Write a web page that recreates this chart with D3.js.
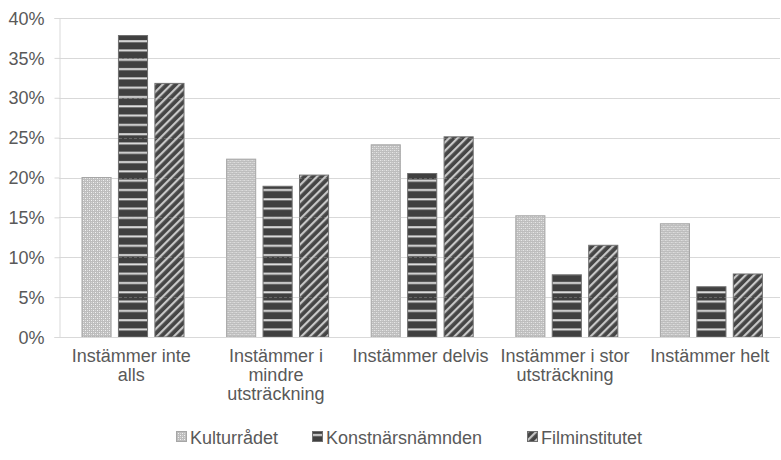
<!DOCTYPE html>
<html><head><meta charset="utf-8">
<script src="https://cdn.jsdelivr.net/npm/d3@7"></script>
<style>body{margin:0;background:#fff}svg{display:block;font-family:"Liberation Sans",Arial,sans-serif}</style>
</head><body><svg id="c" width="781" height="460"></svg>
<script>
const categories = ["Instämmer inte alls","Instämmer i mindre utsträckning","Instämmer delvis","Instämmer i stor utsträckning","Instämmer helt"];
const categoryLines = [["Instämmer inte","alls"],["Instämmer i","mindre","utsträckning"],["Instämmer delvis"],["Instämmer i stor","utsträckning"],["Instämmer helt"]];
const seriesNames = ["Kulturrådet","Konstnärsnämnden","Filminstitutet"];
const kulturradet = [20.0, 22.3, 24.1, 15.2, 14.2];
const konstnarsnamnden = [37.8, 18.9, 20.5, 7.8, 6.3];
const filminstitutet = [31.8, 20.3, 25.1, 11.5, 7.9];
const yTicks = [0,5,10,15,20,25,30,35,40];

const seriesValues = [kulturradet, konstnarsnamnden, filminstitutet];
const svg = d3.select("#c");
const m = {l:59, r:780, t:18, b:337};
const FS = 18;

const defs = svg.append("defs");
// Kulturrådet: light dotted
const p1 = defs.append("pattern").attr("id","p0").attr("patternUnits","userSpaceOnUse").attr("width",4).attr("height",4);
p1.append("rect").attr("width",4).attr("height",4).attr("fill","#bdbdbd");
p1.append("rect").attr("x",0).attr("y",0).attr("width",1).attr("height",1).attr("fill","#f2f2f2");
p1.append("rect").attr("x",2).attr("y",2).attr("width",1).attr("height",1).attr("fill","#f2f2f2");
p1.append("rect").attr("x",2).attr("y",0).attr("width",1).attr("height",1).attr("fill","#d8d8d8");
p1.append("rect").attr("x",0).attr("y",2).attr("width",1).attr("height",1).attr("fill","#d8d8d8");
// Konstnärsnämnden: horizontal stripes
const p2 = defs.append("pattern").attr("id","p1").attr("patternUnits","userSpaceOnUse").attr("width",8).attr("height",9.3);
p2.append("rect").attr("width",8).attr("height",9.3).attr("fill","#404040");
p2.append("rect").attr("y",3).attr("width",8).attr("height",2).attr("fill","#e0e0e0");
// Filminstitutet: diagonal stripes
const p3 = defs.append("pattern").attr("id","p2").attr("patternUnits","userSpaceOnUse").attr("width",6).attr("height",6).attr("patternTransform","rotate(45)");
p3.append("rect").attr("width",6).attr("height",6).attr("fill","#454545");
p3.append("rect").attr("x",0).attr("width",2.2).attr("height",6).attr("fill","#c8c8c8");

const fills = ["url(#p0)","url(#p1)","url(#p2)"];
const strokes = ["#a6a6a6","#6f6f6f","#6f6f6f"];

const y = d3.scaleLinear().domain([0,40]).range([m.b, m.t]);
const x0 = d3.scaleBand().domain(categories).range([m.l, m.l + 5*144.6]).padding(0);
const x1 = d3.scaleBand().domain(seriesNames).range([22.5, 22.5 + 103]).paddingInner(0.174);

// gridlines
const gridVals = yTicks.filter(d=>d>0);
svg.append("g").selectAll("line").data(gridVals).join("line")
  .attr("x1",m.l).attr("x2",m.r).attr("y1",d=>Math.round(y(d))+0.5).attr("y2",d=>Math.round(y(d))+0.5)
  .attr("stroke","#d9d9d9").attr("stroke-width",1);

// y axis
const ya = svg.append("g").attr("transform",`translate(${m.l+0.5},0)`)
  .call(d3.axisLeft(y).tickValues(yTicks).tickFormat(d=>d+"%").tickSize(5).tickPadding(10));
ya.select(".domain").attr("stroke","#d9d9d9");
ya.selectAll(".tick line").attr("stroke","#d9d9d9");
ya.selectAll(".tick text").attr("fill","#595959").attr("font-size",FS).attr("font-family","Liberation Sans, Arial, sans-serif").attr("dy","0.34em");

// bars
const gs = svg.append("g").selectAll("g").data(categories).join("g")
  .attr("transform",d=>`translate(${x0(d)},0)`);
gs.selectAll("rect").data((d,i)=>seriesNames.map((s,j)=>({s, j, v:seriesValues[j][i]}))).join("rect")
  .attr("x",d=>x1(d.s)+0.5).attr("y",d=>y(d.v)).attr("width",x1.bandwidth()-1).attr("height",d=>m.b-y(d.v))
  .attr("fill",d=>fills[d.j]).attr("stroke",d=>strokes[d.j]).attr("stroke-width",1);

// faint gridlines showing through bars
svg.append("g").selectAll("line").data(gridVals).join("line")
  .attr("x1",m.l).attr("x2",m.r).attr("y1",d=>Math.round(y(d))+0.5).attr("y2",d=>Math.round(y(d))+0.5)
  .attr("stroke","#d9d9d9").attr("stroke-opacity",0.25).attr("stroke-dasharray","3,2");

// x axis line
svg.append("line").attr("x1",m.l).attr("x2",m.r).attr("y1",m.b+0.5).attr("y2",m.b+0.5).attr("stroke","#d9d9d9");

// x labels
const xl = svg.append("g").selectAll("text").data(categories).join("text")
  .attr("x",d=>x0(d)+x0.bandwidth()/2).attr("y",362)
  .attr("text-anchor","middle").attr("fill","#595959").attr("font-size",FS);
xl.selectAll("tspan").data((d,i)=>categoryLines[i]).join("tspan")
  .attr("x",function(){return this.parentNode.getAttribute("x");}).attr("dy",(d,i)=>i===0?0:19).text(d=>d);

// legend
const legX = [176, 312, 527];
const lg = svg.append("g").selectAll("g").data(seriesNames).join("g")
  .attr("transform",(d,i)=>`translate(${legX[i]},431)`);
lg.append("rect").attr("x",0.5).attr("y",0.5).attr("width",10).attr("height",10)
  .attr("fill",(d,i)=>fills[i]).attr("stroke",(d,i)=>strokes[i]);
lg.append("text").attr("x",14).attr("y",12.5).attr("fill","#595959").attr("font-size",FS).text(d=>d);
</script></body></html>
